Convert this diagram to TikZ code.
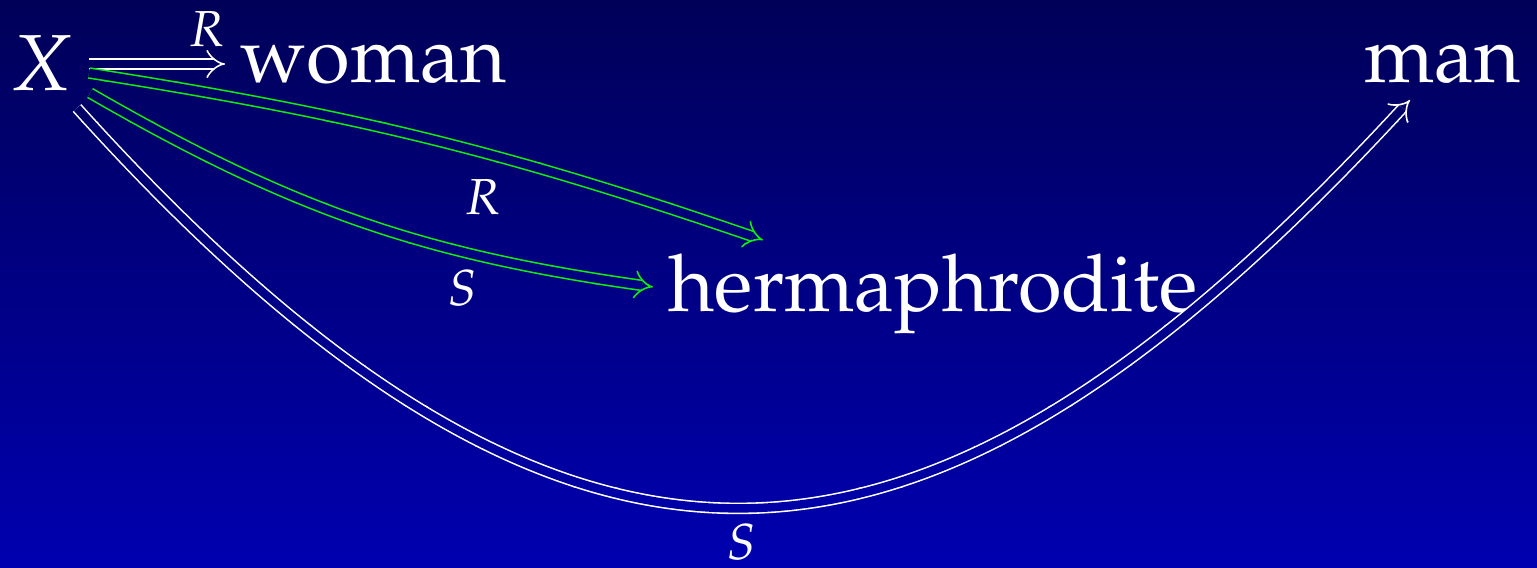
\documentclass[tikz,border=0pt]{standalone}
\usepackage[T1]{fontenc}
\usepackage{mathpazo}
\usetikzlibrary{arrows.meta,calc}
\definecolor{night}{HTML}{000058}
\definecolor{deep}{HTML}{0000B0}
\definecolor{lime}{HTML}{10EE10}

\begin{document}
\begin{tikzpicture}[x=0.01cm, y=-0.01cm,
  every node/.style={text=white, inner sep=0pt},
  word/.style={font=\fontsize{22.6}{27}\selectfont},
  tag/.style={font=\fontsize{14.4}{17}\selectfont},
  pair/.style={line width=0.45pt, double distance=2.4pt, -{Implies[scale=1.35]}},
  pair white/.style={pair, draw=white},
  pair lime/.style={pair, draw=lime}
]

% --- background
\fill[top color=night, bottom color=deep] (0,0) rectangle (1537,568);
\useasboundingbox (0,0) rectangle (1537,568);

% --- words
\node[word, anchor=base] (X) at (41,91) {$X$};
\node[word, anchor=base west] (woman) at (240,83) {woman};
\node[word, anchor=base west] (man) at (1364,83) {man};
\node[word, anchor=base west] (herm) at (668,312) {hermaphrodite};

% --- labels
\node[tag, anchor=base] (r1) at (207,47) {$R$};
\node[tag, anchor=base] (r2) at (483,215) {$R$};
\node[tag, anchor=base] (s1) at (463,306) {$S$};
\node[tag, anchor=base] (s2) at (742,560) {$S$};

% --- arrows, drawn in bands so the gap follows the background
\foreach \k in {0,...,13}{
  \pgfmathtruncatemacro{\mix}{100-(\k+0.5)*100/14}
  \begin{scope}
    \clip (0,\k*40.6) rectangle (1537,\k*40.6+41);
    \colorlet{gap}{night!\mix!deep}
    \draw[pair white, double=gap] ([shift={(48,-27)}]X.base) -- ([shift={(-15,-19)}]woman.base west);
    \draw[pair lime, double=gap] ([shift={(48,-18)}]X.base) to[bend left=5] ([shift={(95,-72)}]herm.base west);
    \draw[pair lime, double=gap] ([shift={(49,2)}]X.base) to[bend right=11] ([shift={(-15,-25)}]herm.base west);
    \draw[pair white, double=gap] ([shift={(36,17)}]X.base) .. controls +(505,560) and +(-475,515) .. ([shift={(46,17)}]man.base west);
  \end{scope}
}

\end{tikzpicture}
\end{document}
